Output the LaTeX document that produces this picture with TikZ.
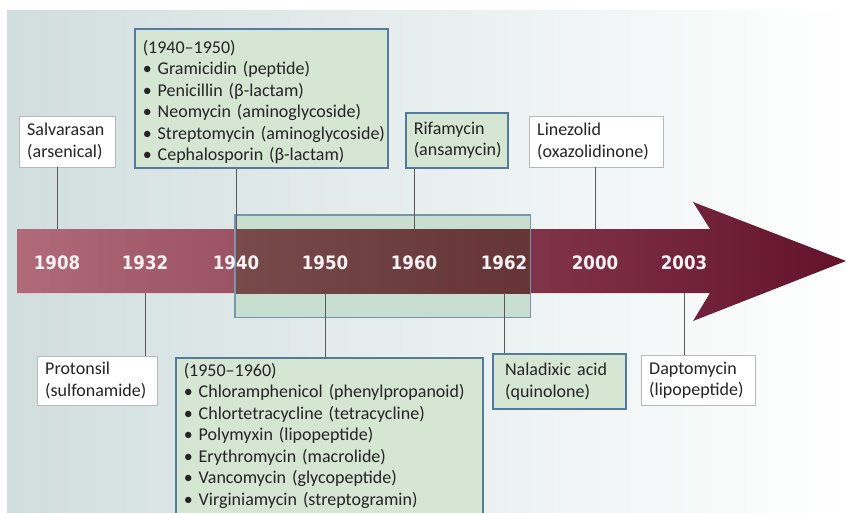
\documentclass[tikz,border=0pt]{standalone}
\usepackage{fontspec}
\setmainfont{Carlito}
\IfFontExistsTF{DejaVu Sans Condensed}
  {\newfontfamily\yearfont{DejaVu Sans Condensed}}
  {\newfontfamily\yearfont{DejaVu Sans}}
\usetikzlibrary{positioning,calc,shadows}
\definecolor{bgleft}{RGB}{209,222,222}
\definecolor{bgmid}{RGB}{233,239,239}
\definecolor{bandleft}{RGB}{176,106,121}
\definecolor{bandright}{RGB}{100,18,44}
\definecolor{spanleft}{RGB}{120,74,74}
\definecolor{spanright}{RGB}{100,52,54}
\definecolor{spanfill}{RGB}{200,222,206}
\definecolor{drugtext}{RGB}{36,36,36}
\definecolor{erafill}{RGB}{213,230,211}
\definecolor{eraedge}{RGB}{84,122,158}
\definecolor{yeartext}{RGB}{252,242,244}

\begin{document}
\begin{tikzpicture}[x=1pt,y=-1pt,
  font=\fontsize{18}{21.5}\selectfont,
  box/.style={draw=gray!55,fill=white,align=left,anchor=north west,
              inner xsep=8pt,inner ysep=0pt,text=drugtext},
  era/.style={box,draw=eraedge,fill=erafill,line width=1.5pt,
              drop shadow={opacity=.2,shadow xshift=1pt,shadow yshift=-1pt}},
  yr/.style={font=\yearfont\bfseries\fontsize{18.5}{20}\selectfont,text=yeartext},
  tick/.style={gray!70!black,line width=.8pt}
]
\useasboundingbox (0,0) rectangle (846,512);
\clip (0,0) rectangle (846,512);
\shade[left color=bgleft,middle color=bgmid,right color=white] (7,10) rectangle (846,512);

% timeline arrow
\shade[left color=bandleft,right color=bandright]
  (17,229) -- (710,229) -- (693,202) -- (846,261) -- (693,321) -- (710,293) -- (17,293) -- cycle;
\coordinate (bandtop) at (0,229);
\coordinate (bandbot) at (0,293);
% the 1940--1962 span, darker where it covers the arrow
\node[anchor=north west,fill=spanfill,minimum width=295pt,minimum height=102pt,inner sep=0pt]
  (span) at (235,215) {};
\shade[left color=spanleft,right color=spanright] (span.west |- bandtop) rectangle (span.east |- bandbot);
\draw[eraedge!80,line width=1.1pt] (span.north west) rectangle (span.south east);
\foreach \x/\yr in {57/1908,145/1932,236/1940,325/1950,414/1960,504/1962,595/2000,684/2003}
  \node[yr] (y\yr) at (\x,263) {\yr};

% above the arrow
\node[box,text width=80pt,minimum height=51pt] (salv) at (19,116) {Salvarasan\\(arsenical)};
\node[era,text width=237pt,minimum height=139pt] (g40) at (134,28)
  {\rule{0pt}{21pt}(1940–1950)\\• Gramicidin (peptide)\\• Penicillin (β-lactam)\\• Neomycin (aminoglycoside)\\
   \mbox{• Streptomycin (aminoglycoside)}\\• Cephalosporin (β-lactam)};
\node[era,text width=86pt,minimum height=55pt] (rifa) at (405,112) {Rifamycin\\(ansamycin)};
\node[box,text width=118pt,minimum height=51pt] (linez) at (529,116) {Linezolid\\(oxazolidinone)};

% below the arrow
\node[box,text width=104pt,minimum height=49pt] (prot) at (37,356) {Protonsil\\(sulfonamide)};
\node[era,text width=291pt,minimum height=156pt] (g50) at (175,357)
  {(1950–1960)\\• Chloramphenicol (phenylpropanoid)\\• Chlortetracycline (tetracycline)\\
   • Polymyxin (lipopeptide)\\• Erythromycin (macrolide)\\• Vancomycin (glycopeptide)\\
   • Virginiamycin (streptogramin)};
\node[era,inner xsep=12pt,line width=2.2pt,text width=109pt,minimum height=55pt] (nal) at (492,353)
  {Naladixic acid\\(quinolone)};
\node[box,text width=98pt,minimum height=50pt] (dapt) at (641,355) {Daptomycin\\(lipopeptide)};

\draw[tick] (y1908 |- salv.south) -- (y1908 |- bandtop);
\draw[tick] (y1940 |- g40.south) -- (y1940 |- bandtop);
\draw[tick] (y1960 |- rifa.south) -- (y1960 |- bandtop);
\draw[tick] (y2000 |- linez.south) -- (y2000 |- bandtop);
\draw[tick] (y1932 |- bandbot) -- (y1932 |- prot.north);
\draw[tick] (y1950 |- bandbot) -- (y1950 |- g50.north);
\draw[tick] (y1962 |- bandbot) -- (y1962 |- nal.north);
\draw[tick] (y2003 |- bandbot) -- (y2003 |- dapt.north);
\end{tikzpicture}
\end{document}
